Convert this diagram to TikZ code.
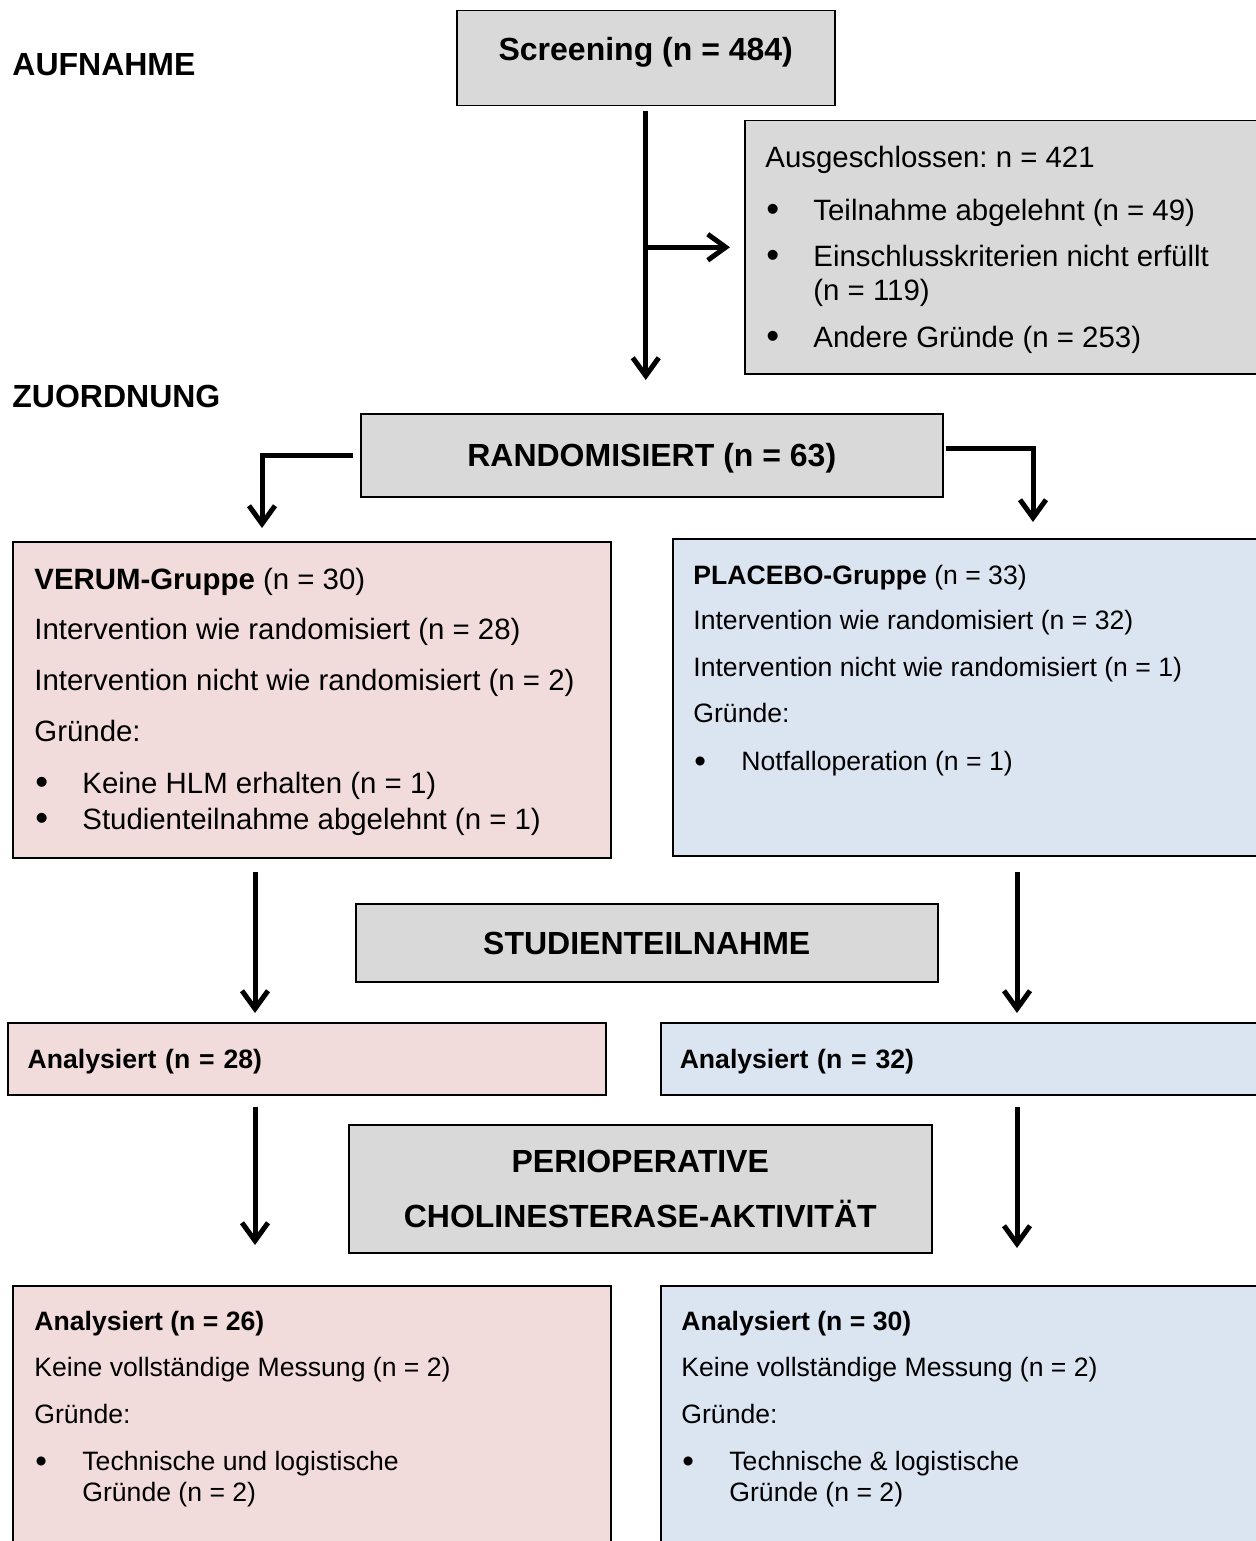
\documentclass[tikz,border=0pt]{standalone}
\usepackage{fontspec}
\setmainfont{Liberation Sans}
\usetikzlibrary{%
	arrows.meta,%
	positioning,%
}
\definecolor{cgray}{RGB}{217, 217, 217}
\definecolor{cpink}{RGB}{242, 220, 219}
\definecolor{cblue}{RGB}{219, 229, 241}
\frenchspacing
\newcommand{\largefont}{\fontsize{16pt}{19pt}\selectfont\bfseries}
\newcommand{\mediumfont}{\fontsize{14.7pt}{18pt}\selectfont}
\newcommand{\smallfont}{\fontsize{13.3pt}{15.5pt}\selectfont}
\newcommand{\listentry}[1]{\hspace*{0.5pt}\makebox[23.5pt][l]{\raisebox{-0.7pt}{\scalebox{1.25}{\textbullet}}}#1}
\newcommand{\listcont}[1]{\hspace*{24pt}#1}
\tikzset{
	flowbox/.style={%
			draw,%
			rectangle,%
			line width=0.75pt,%
			anchor=north west,%
			inner sep=0pt},%
	graybox/.style={%
			flowbox,%
			fill=cgray},%
	pinkbox/.style={%
			flowbox,%
			fill=cpink},%
	bluebox/.style={%
			flowbox,%
			fill=cblue},%
	headtext/.style={%
			font=\largefont,%
			align=center},%
	onerow/.style={%
			text height=14pt,%
			text depth=2.5pt},%
	resultrow/.style={%
			font=\smallfont\bfseries,%
			text width=279pt,%
			align=left,%
			inner xsep=9.5pt,%
			minimum height=36pt,%
			text height=12pt,%
			text depth=2.5pt},%
	boxtext/.style={%
			anchor=base west,%
			inner sep=0pt,%
			align=left},%
	phaselabel/.style={%
			anchor=west,%
			inner sep=0pt,%
			font=\largefont},%
	flowarrow/.style={%
			-{Straight Barb[length=9pt, width=13pt]},%
			line width=2.5pt},%
}

\begin{document}
\begin{tikzpicture}[x=0.5pt, y=-0.5pt]
	\useasboundingbox (0,0) rectangle (1255,1541);

	\node[phaselabel] (aufnahme) at (12,65) {AUFNAHME};
	\node[phaselabel] (zuordnung) at (12,396) {ZUORDNUNG};

	\node[graybox, headtext, minimum width=189pt, minimum height=47.5pt, text height=12pt, text depth=10pt] (screen) at (456,10) {Screening (n = 484)};

	\node[graybox, minimum width=256pt, minimum height=126.5pt] (excl) at (744,120) {};
	\node[boxtext, font=\mediumfont] (excltext) at (765,347.5) {Ausgeschlossen: n = 421\\[8.5pt]
			\listentry{Teilnahme abgelehnt (n = 49)}\\[5pt]
			\listentry{Einschlusskriterien nicht erfüllt}\\[-1pt]
			\listcont{(n = 119)}\\[5.5pt]
			\listentry{Andere Gründe (n = 253)}};

	\node[graybox, headtext, onerow, minimum width=291pt, minimum height=41.5pt] (random) at (360,413) {RANDOMISIERT (n = 63)};

	\node[pinkbox, minimum width=299pt, minimum height=158pt] (verum) at (12,541) {};
	\node[boxtext, font=\mediumfont] (verumtext) at (34,829.5) {\textbf{VERUM-Gruppe} (n = 30)\\[7pt]
			Intervention wie randomisiert (n = 28)\\[7.5pt]
			Intervention nicht wie randomisiert (n = 2)\\[7.5pt]
			Gründe:\\[8pt]
			\listentry{Keine HLM erhalten (n = 1)}\\
			\listentry{Studienteilnahme abgelehnt (n = 1)}};

	\node[bluebox, minimum width=292pt, minimum height=158.5pt] (placebo) at (672,538) {};
	\node[boxtext, font=\smallfont] (placebotext) at (693,770.6) {\textbf{PLACEBO-Gruppe} (n = 33)\\[7pt]
			Intervention wie randomisiert (n = 32)\\[8pt]
			Intervention nicht wie randomisiert (n = 1)\\[7.5pt]
			Gründe:\\[8.5pt]
			\listentry{Notfalloperation (n = 1)}};

	\node[graybox, headtext, onerow, minimum width=291pt, minimum height=39pt] (studien) at (355,903) {STUDIENTEILNAHME};

	\node[pinkbox, resultrow, minimum width=299pt] (anaL) at (7,1022) {Analysiert (n = 28)};
	\node[bluebox, resultrow, minimum width=298pt] (anaR) at (660,1022) {Analysiert (n = 32)};

	\node[graybox, headtext, minimum width=291.5pt, minimum height=64pt] (periop) at (348,1124) {PERIOPERATIVE\\[8.5pt]CHOLINESTERASE-AKTIVITÄT};

	\node[pinkbox, minimum width=299pt, minimum height=130pt] (endL) at (12,1285) {};
	\node[boxtext, font=\smallfont] (endLtext) at (34,1501.6) {\textbf{Analysiert (n = 26)}\\[7.5pt]
			Keine vollständige Messung (n = 2)\\[8pt]
			Gründe:\\[8pt]
			\listentry{Technische und logistische}\\
			\listcont{Gründe (n = 2)}};

	\node[bluebox, minimum width=298pt, minimum height=130pt] (endR) at (660,1285) {};
	\node[boxtext, font=\smallfont] (endRtext) at (681,1501.6) {\textbf{Analysiert (n = 30)}\\[7.5pt]
			Keine vollständige Messung (n = 2)\\[8pt]
			Gründe:\\[8pt]
			\listentry{Technische \& logistische}\\
			\listcont{Gründe (n = 2)}};

	\coordinate (lbend) at (262,0);
	\coordinate (rbend) at (1033,0);
	\coordinate (lcol) at (255,0);
	\coordinate (rcol) at (1017,0);

	\draw[flowarrow, shorten <=2.5pt, shorten >=16.5pt] (screen.south) -- (screen.south |- random.north);
	\draw[flowarrow, shorten >=7pt] (screen.south |- excl.west) -- (excl.west);
	\draw[flowarrow, shorten <=3.5pt, shorten >=6.5pt] (random.west) -| (lbend |- verum.north);
	\draw[flowarrow, shorten <=1pt, shorten >=8pt] ([yshift=3.25pt]random.east) -| (rbend |- placebo.north);
	\draw[flowarrow, shorten <=6.5pt, shorten >=4.5pt] (verum.south -| lcol) -- (anaL.north -| lcol);
	\draw[flowarrow, shorten <=7.5pt, shorten >=4.5pt] (placebo.south -| rcol) -- (anaR.north -| rcol);
	\draw[flowarrow, shorten <=5.5pt, shorten >=20pt] (anaL.south -| lcol) -- (endL.north -| lcol);
	\draw[flowarrow, shorten <=5.5pt, shorten >=18.5pt] (anaR.south -| rcol) -- (endR.north -| rcol);
\end{tikzpicture}
\end{document}
